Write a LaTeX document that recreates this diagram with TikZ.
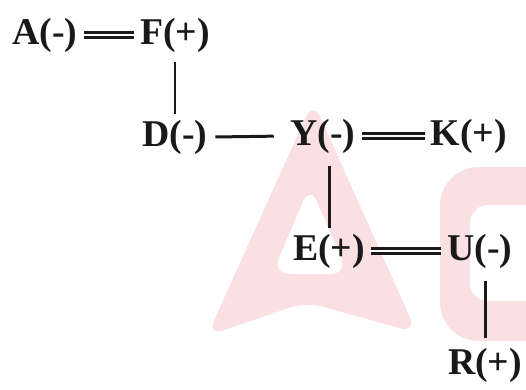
\documentclass[tikz,border=0pt]{standalone}
\usepackage{fontspec}
\setmainfont{Liberation Serif}
\usepackage{xcolor}
\definecolor{logopink}{RGB}{250,224,227}
\tikzset{
  atom/.style  = {font=\bfseries\fontsize{21.5}{24}\selectfont, text=black!90},
  bond/.style  = {line width=1.7pt, draw=black!90},
  dbond/.style = {line width=1.4pt, draw=black!90, double=white, double distance=1.2pt},
  logo/.style  = {fill=logopink, draw=none, even odd rule}
}
\begin{document}
\begin{tikzpicture}[x=0.02cm, y=-0.02cm]
\useasboundingbox (0,0) rectangle (526,389);
% watermark in the back
\begin{scope}
\clip (0,0) rectangle (526,389);
\path[logo, rounded corners=10pt] (313,101) -- (207,336) -- (306,302) -- (417,333) -- cycle
      (310,185) -- (272,274) -- (348,274) -- cycle;
\path[logo] [rounded corners=22pt] (440,167) rectangle (580,341)
      [rounded corners=10pt] (470,205) rectangle (580,301);
\end{scope}

\node[atom] at ( 45, 35) (A) {A(-)};
\node[atom] at (175, 35) (F) {F(+)};
\node[atom] at (175,137) (D) {D(-)};
\node[atom] at (323,136) (Y) {Y(-)};
\node[atom] at (469,136) (K) {K(+)};
\node[atom] at (329,251) (E) {E(+)};
\node[atom] at (480,251) (U) {U(-)};
\node[atom] at (485,365) (R) {R(+)};

\draw[dbond] (A.east) -- (F.west);
\draw[bond, shorten <=2pt] (F.south) -- (D.north);
\draw[bond, shorten <=1pt, shorten >=6pt] (D.east) -- (Y.west);
\draw[dbond] (Y.east) -- (K.west);
\draw[bond, shorten <=4pt] (E.north |- Y.south) -- (E.north);
\draw[dbond] (E.east) -- (U.west);
\draw[bond, shorten <=4pt, shorten >=2pt] (U.south -| R.north) -- (R.north);
\end{tikzpicture}
\end{document}
